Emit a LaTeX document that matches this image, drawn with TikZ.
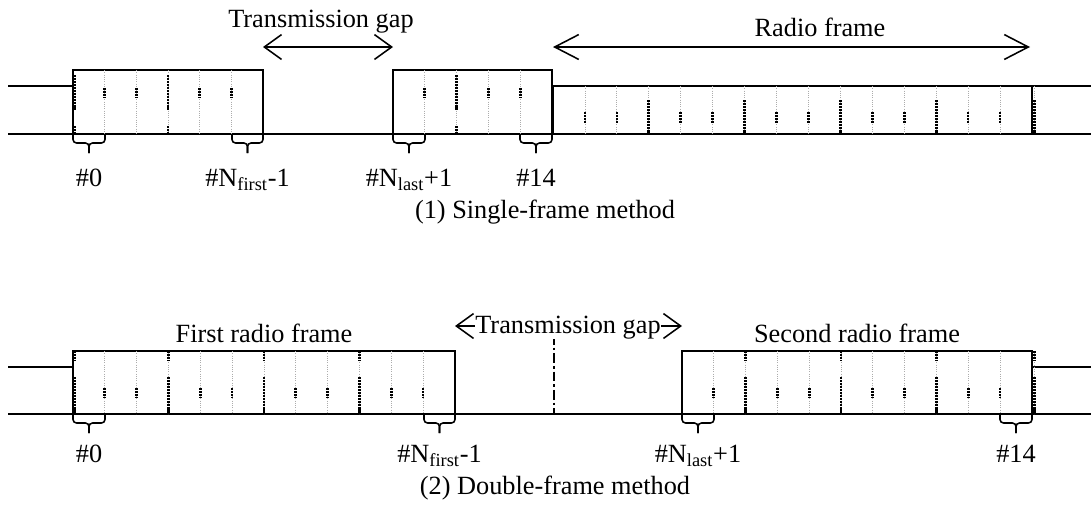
\documentclass[tikz,border=0pt]{standalone}
\usepackage{fontspec}
\setmainfont{Liberation Serif}
\usetikzlibrary{arrows.meta}

\tikzset{
  frm/.style={line width=1.1pt},
  slotgray/.style={gray!65, line width=0.6pt, dash pattern=on 0.8pt off 0.8pt},
  blk/.style={black, line width=1.9pt, dash pattern=on 1.5pt off 0.6pt},
  brc/.style={line width=1.1pt, rounded corners=2.5pt},
  span/.style={line width=1.1pt, {Straight Barb[length=#1,width=0.62cm]}-{Straight Barb[length=#1,width=0.62cm]}},
  lbl/.style={font=\fontsize{18.7}{22}\selectfont, inner sep=0pt},
}

% brace under one slot: x1, x2, y, name of the stem end
\newcommand{\slotbrace}[4]{%
  \draw[brc] (#1,#3) -- (#1,#3+9) -- ({(#1+#2)/2},#3+9) -- ({(#1+#2)/2},#3+19);
  \draw[brc] (#2,#3) -- (#2,#3+9) -- ({(#1+#2)/2},#3+9) -- ({(#1+#2)/2},#3+19);
  \coordinate (#4) at ({(#1+#2)/2},#3+19);}

\begin{document}
\begin{tikzpicture}[x=0.025cm, y=-0.025cm]
    \useasboundingbox (0,0) rectangle (1091,508);

    % (1) single-frame method
    \draw[frm] (8,86) -- (73,86);
    \draw[frm] (8,134) -- (1091,134);
    \draw[frm] (73,134) rectangle (263,70);
    \draw[frm] (393,134) rectangle (552,70);
    \draw[frm] (553,134) -- (553,86) -- (1091,86);
    \draw[frm] (1032,86) -- (1032,134);
    \foreach \x in {104.7,136.3,168,199.7,231.3,424.8,456.6,488.4,520.2}
      \draw[slotgray] (\x,70) -- (\x,134);
    \foreach \k in {1,...,14}
      \draw[slotgray] ({553+31.93*\k},86) -- ({553+31.93*\k},134);
    \draw[slotgray] (1034.5,86) -- (1034.5,134);
    \foreach \x in {104.7,136.3,199.7,231.3,424.8,488.4,520.2}
      \draw[blk] (\x,88) -- (\x,98);
    \foreach \x in {74.5,168,456.6} {
      \draw[blk] (\x,75) -- (\x,110);
      \draw[blk] (\x,126) -- (\x,134);
    }
    \foreach \k in {1,2,4,5,7,8,10,11,13,14}
      \draw[blk] ({553+31.93*\k},112) -- ({553+31.93*\k},123);
    \foreach \k in {3,6,9,12}
      \draw[blk] ({553+31.93*\k},100) -- ({553+31.93*\k},134);
    \draw[blk] (1034.5,100) -- (1034.5,134);

    \coordinate (gapl) at (263,47);
    \coordinate (gapr) at (393,47);
    \coordinate (rfl) at (553,47);
    \coordinate (rfr) at (1030,47);
    \draw[span=0.43cm] (gapl) -- (gapr);
    \draw[span=0.6cm] (rfl) -- (rfr);
    \node[lbl, anchor=base] (gapone) at (321,27) {Transmission gap};
    \node[lbl, anchor=base] (radioframe) at (820,36) {Radio frame};

    \slotbrace{73}{105}{134}{bzero}
    \slotbrace{232}{263}{134}{bfirst}
    \slotbrace{393}{425}{134}{blast}
    \slotbrace{520}{552}{134}{bend}
    \node[lbl, anchor=base] (lzero) at (89,186) {\#0};
    \node[lbl, anchor=base] (lfirst) at (247.5,186) {\#N\textsubscript{first}-1};
    \node[lbl, anchor=base] (llast) at (409,186) {\#N\textsubscript{last}+1};
    \node[lbl, anchor=base] (lend) at (536,186) {\#14};
    \node[lbl, anchor=base] (capone) at (545,218) {(1) Single-frame method};

    % (2) double-frame method
    \draw[frm] (8,367) -- (73,367);
    \draw[frm] (1032,367) -- (1091,367);
    \draw[frm] (8,414) -- (1091,414);
    \draw[frm] (73,414) rectangle (455,351);
    \draw[frm] (682,414) rectangle (1032,351);
    \foreach \k in {1,...,11}
      \draw[slotgray] ({73+31.83*\k},351) -- ({73+31.83*\k},414);
    \foreach \k in {1,...,10}
      \draw[slotgray] ({682+31.8*\k},351) -- ({682+31.8*\k},414);
    \draw[slotgray] (1034.5,351) -- (1034.5,414);
    \foreach \k in {1,2,4,5,7,8,10,11}
      \draw[blk] ({73+31.83*\k},388) -- ({73+31.83*\k},398);
    \foreach \k in {1,3,4,6,7,9,10}
      \draw[blk] ({682+31.8*\k},388) -- ({682+31.8*\k},398);
    \foreach \x in {74.5,168.5,264,359.5,745.6,841,936.5,1034.5} {
      \draw[blk] (\x,351) -- (\x,361);
      \draw[blk] (\x,377) -- (\x,414);
    }
    \draw[line width=1.5pt, dash pattern=on 7pt off 2pt on 2pt off 2pt] (554,335) -- (554,414);

    \coordinate (gapltwo) at (455,326);
    \coordinate (gaprtwo) at (682,326);
    \draw[span=0.43cm] (gapltwo) -- (gaprtwo);
    \node[lbl, anchor=base, fill=white] (gaptwo) at (568,333) {Transmission gap};
    \node[lbl, anchor=base] (firstframe) at (264,342) {First radio frame};
    \node[lbl, anchor=base] (secondframe) at (857,342) {Second radio frame};

    \slotbrace{73}{105}{414}{bzerotwo}
    \slotbrace{424}{455}{414}{bfirsttwo}
    \slotbrace{682}{714}{414}{blasttwo}
    \slotbrace{1000}{1032}{414}{bendtwo}
    \node[lbl, anchor=base] (lzerotwo) at (89,462) {\#0};
    \node[lbl, anchor=base] (lfirsttwo) at (439.5,462) {\#N\textsubscript{first}-1};
    \node[lbl, anchor=base] (llasttwo) at (698,462) {\#N\textsubscript{last}+1};
    \node[lbl, anchor=base] (lendtwo) at (1016,462) {\#14};
    \node[lbl, anchor=base] (captwo) at (555,494) {(2) Double-frame method};
\end{tikzpicture}
\end{document}
